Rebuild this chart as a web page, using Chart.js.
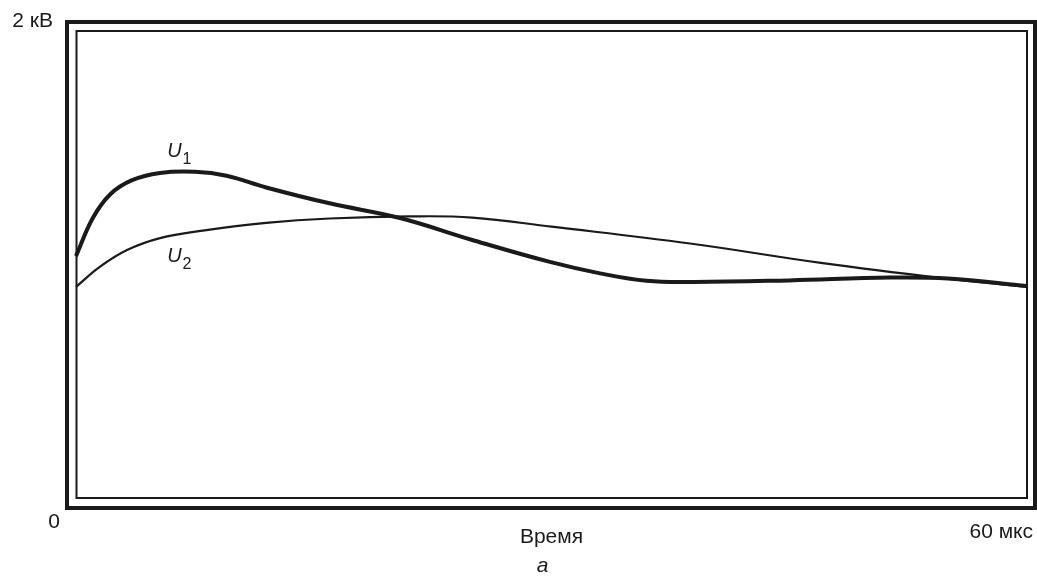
<!DOCTYPE html>
<html>
<head>
<meta charset="utf-8">
<script src="https://cdn.jsdelivr.net/npm/chart.js@4.4.0/dist/chart.umd.min.js"></script>
<style>
  html, body { margin: 0; padding: 0; background: #fff; }
  #wrap { width: 1037px; height: 579px; }
</style>
</head>
<body>
<div id="wrap"><canvas id="chart" width="1037" height="579"></canvas></div>
<script>
// ============================================
// DATA (x in µs, y in kV)
// ============================================
const timeU1 = [0, 1.07, 2.15, 3.5, 5.3, 7.5, 9.5, 12, 16, 20.44, 25, 29.9, 33.06, 36, 39, 45, 51.36, 55, 60];
const voltU1 = [1.036, 1.200, 1.300, 1.360, 1.392, 1.397, 1.380, 1.330, 1.262, 1.199, 1.105, 1.011, 0.962, 0.930, 0.925, 0.932, 0.944, 0.940, 0.908];

const timeU2 = [0, 1.5, 3.22, 5.3, 8, 12, 16, 21, 25, 30, 38.74, 47, 54.5, 60];
const voltU2 = [0.904, 0.990, 1.062, 1.113, 1.145, 1.178, 1.197, 1.206, 1.201, 1.162, 1.090, 1.007, 0.943, 0.904];

const seriesNames = ['U', 'U'];
const seriesSubs = ['1', '2'];
const yTickLabels = ['0', '2 кВ'];
const xTickLabels = ['Время', '60 мкс'];
const captionText = 'а';

const xRange = [0, 60];
const yRange = [0, 2];

const FONT = "'Liberation Sans', Arial, sans-serif";
const INK = '#1a1a1a';

// ============================================
// PLUGIN: double frame + free text labels
// ============================================
const framePlugin = {
    id: 'frameAndText',
    afterDraw(chart) {
        const { ctx, chartArea: a } = chart;
        const xs = chart.scales.x, ys = chart.scales.y;
        ctx.save();
        ctx.strokeStyle = INK;

        // outer thick frame
        ctx.lineWidth = 4;
        ctx.strokeRect(a.left - 9, a.top - 9, (a.right - a.left) + 17, (a.bottom - a.top) + 19);
        // inner thin frame
        ctx.lineWidth = 2;
        ctx.strokeRect(a.left + 0.5, a.top, (a.right - a.left) - 0.5, a.bottom - a.top);

        ctx.fillStyle = INK;
        ctx.font = '21px ' + FONT;
        ctx.textBaseline = 'middle';

        // y labels
        ctx.textAlign = 'right';
        ctx.fillText(yTickLabels[1], a.left - 23, 21);
        ctx.fillText(yTickLabels[0], a.left - 16, 522);

        // x labels
        ctx.textAlign = 'center';
        ctx.fillText(xTickLabels[0], xs.getPixelForValue(30), 537);
        ctx.textAlign = 'right';
        ctx.fillText(xTickLabels[1], a.right + 6, 532);

        // caption
        ctx.textAlign = 'center';
        ctx.font = 'italic 21px ' + FONT;
        ctx.fillText(captionText, xs.getPixelForValue(30) - 9, 566);

        // series labels U1 / U2
        const labelPos = [[5.75, 1.485], [5.75, 1.035]];
        for (let i = 0; i < 2; i++) {
            const px = xs.getPixelForValue(labelPos[i][0]);
            const py = ys.getPixelForValue(labelPos[i][1]);
            ctx.textAlign = 'left';
            ctx.font = 'italic 20px ' + FONT;
            ctx.fillText(seriesNames[i], px, py);
            const w = ctx.measureText(seriesNames[i]).width;
            ctx.font = '16px ' + FONT;
            ctx.fillText(seriesSubs[i], px + w + 1, py + 8);
        }
        ctx.restore();
    }
};

// ============================================
// CHART
// ============================================
function toPoints(xs, ys) {
    return xs.map((x, i) => ({ x: x, y: ys[i] }));
}

new Chart(document.getElementById('chart'), {
    type: 'line',
    data: {
        datasets: [
            {
                label: 'U1',
                data: toPoints(timeU1, voltU1),
                borderColor: INK,
                borderWidth: 4,
                pointRadius: 0,
                tension: 0.4,
                fill: false,
                clip: false
            },
            {
                label: 'U2',
                data: toPoints(timeU2, voltU2),
                borderColor: INK,
                borderWidth: 2.2,
                pointRadius: 0,
                tension: 0.4,
                fill: false,
                clip: false
            }
        ]
    },
    options: {
        responsive: false,
        animation: false,
        layout: { padding: { left: 76, top: 31, right: 10, bottom: 81 } },
        plugins: {
            legend: { display: false },
            tooltip: { enabled: false }
        },
        scales: {
            x: { type: 'linear', min: xRange[0], max: xRange[1], display: false },
            y: { type: 'linear', min: yRange[0], max: yRange[1], display: false }
        }
    },
    plugins: [framePlugin]
});
</script>
</body>
</html>
